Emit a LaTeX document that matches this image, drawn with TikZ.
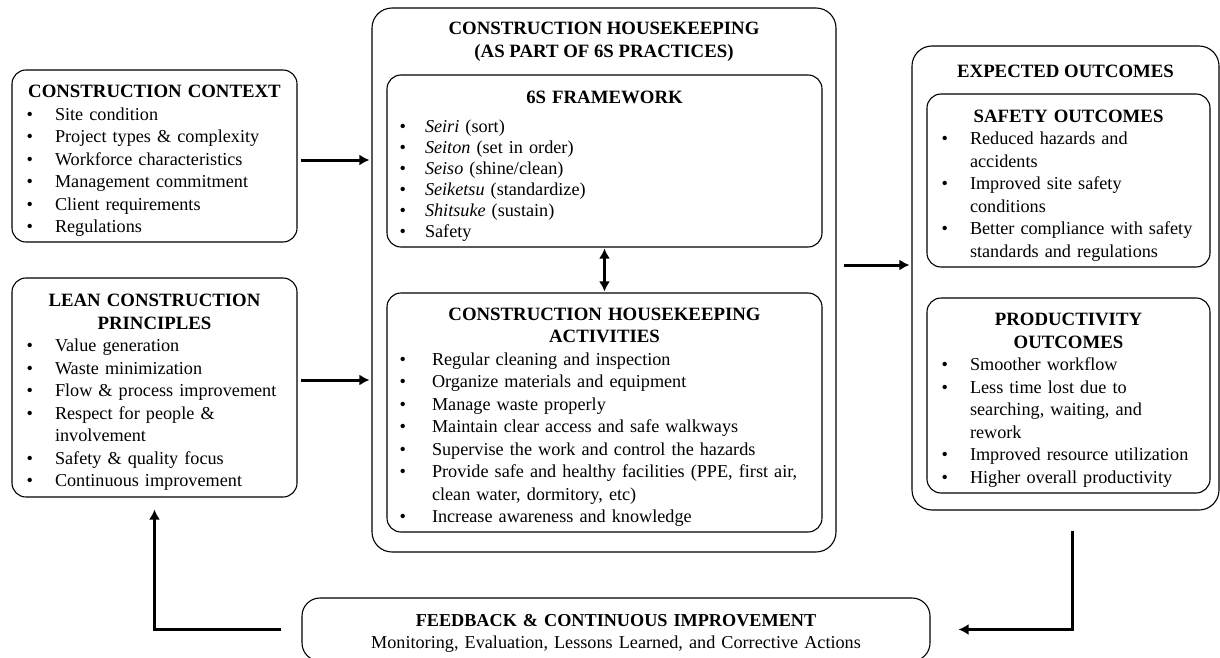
\documentclass[tikz,border=0pt]{standalone}
\usepackage{fontspec}
\setmainfont{Liberation Serif}
\usepackage{enumitem}
\usetikzlibrary{arrows.meta}
\setlist[itemize]{nosep,label=\textbullet,leftmargin=37pt,labelsep=22pt}
\newcommand{\boxhead}[1]{{\centering\fontsize{18.8}{22.5}\selectfont\bfseries\rule{0pt}{22pt}#1\par}}

\begin{document}
\begin{tikzpicture}[x=1pt,y=-1pt,>={Latex[length=10pt,width=11pt]},
  font=\fontsize{18.2}{22.5}\selectfont,
  card/.style={draw,line width=1.1pt,rounded corners=14pt,inner xsep=6pt,inner ysep=2pt,align=left},
  frame/.style={draw,line width=1.1pt,rounded corners=20pt},
  head/.style={font=\fontsize{18.8}{23}\selectfont\bfseries,align=center},
  flow/.style={->,line width=3pt}]
  \useasboundingbox (0,0) rectangle (1220,658);
  % inputs on the left
  \node[card,text width=273pt,minimum height=172pt] (ctx) at (154.5,156) {\boxhead{CONSTRUCTION CONTEXT}
    \begin{itemize}
    \item Site condition
    \item Project types \& complexity
    \item Workforce characteristics
    \item Management commitment
    \item Client requirements
    \item Regulations
    \end{itemize}};
  \node[card,text width=273pt,minimum height=219pt] (lean) at (154.5,387.5) {\boxhead{LEAN CONSTRUCTION\\PRINCIPLES}
    \begin{itemize}
    \item Value generation
    \item Waste minimization
    \item Flow \& process improvement
    \item Respect for people \&\newline involvement
    \item Safety \& quality focus
    \item Continuous improvement
    \end{itemize}};
  % housekeeping in the middle
  \node[frame,minimum width=464pt,minimum height=544pt] (hk) at (604,280) {};
  \node[head] (hkhead) at (604,42) {CONSTRUCTION HOUSEKEEPING\\(AS PART OF 6S PRACTICES)};
  \node[card,text width=423pt,minimum height=172pt] (six) at (604.5,161) {\boxhead{6S FRAMEWORK}\vspace{8pt}
    \begin{itemize}[leftmargin=32pt,labelsep=19pt,before={\fontsize{18.2}{21}\selectfont}]
    \item \textit{Seiri} (sort)
    \item \textit{Seiton} (set in order)
    \item \textit{Seiso} (shine/clean)
    \item \textit{Seiketsu} (standardize)
    \item \textit{Shitsuke} (sustain)
    \item Safety
    \end{itemize}};
  \node[card,text width=423pt,minimum height=239pt] (act) at (604.5,412.5) {\boxhead{CONSTRUCTION HOUSEKEEPING\\ACTIVITIES}
    \begin{itemize}[leftmargin=39pt,labelsep=26pt]
    \item Regular cleaning and inspection
    \item Organize materials and equipment
    \item Manage waste properly
    \item Maintain clear access and safe walkways
    \item Supervise the work and control the hazards
    \item Provide safe and healthy facilities (PPE, first air,\newline clean water, dormitory, etc)
    \item Increase awareness and knowledge
    \end{itemize}};
  % outcomes on the right
  \node[frame,minimum width=307pt,minimum height=464pt] (out) at (1065.5,278) {};
  \node[head] (outhead) at (1065.5,71) {EXPECTED OUTCOMES};
  \node[card,text width=271pt,minimum height=173pt] (safe) at (1068.5,180.5) {\boxhead{SAFETY OUTCOMES}
    \begin{itemize}
    \item Reduced hazards and\newline accidents
    \item Improved site safety\newline conditions
    \item Better compliance with safety\newline standards and regulations
    \end{itemize}};
  \node[card,text width=271pt,minimum height=195pt] (prod) at (1068.5,395.5) {\boxhead{PRODUCTIVITY\\OUTCOMES}
    \begin{itemize}
    \item Smoother workflow
    \item Less time lost due to\newline searching, waiting, and\newline rework
    \item Improved resource utilization
    \item Higher overall productivity
    \end{itemize}};
  % feedback loop
  \node[card,rounded corners=18pt,text width=616pt,minimum height=63pt,align=center] (fb) at (616,629.5)
    {\rule{0pt}{20pt}\textbf{FEEDBACK \& CONTINUOUS IMPROVEMENT}\\Monitoring, Evaluation, Lessons Learned, and Corrective Actions};
  % connectors
  \draw[flow,shorten <=3pt,shorten >=2pt] ([yshift=-4pt]ctx.east) -- ([yshift=-4pt]ctx.east -| hk.west);
  \draw[flow,shorten <=3pt,shorten >=2pt] ([yshift=7.5pt]lean.east) -- ([yshift=7.5pt]lean.east -| hk.west);
  \draw[flow,shorten <=7pt,shorten >=2pt] ([yshift=15pt]hk.east) -- ([yshift=15pt]hk.east -| out.west);
  \draw[<->,line width=2.6pt,shorten <=1pt,shorten >=1pt] (six.south) -- (act.north);
  \draw[flow] ([xshift=6.5pt,yshift=-20pt]out.south) |- ([xshift=28pt]fb.east);
  \draw[flow] ([xshift=-20pt]fb.west) -| ([yshift=-12pt]lean.south);
\end{tikzpicture}
\end{document}
